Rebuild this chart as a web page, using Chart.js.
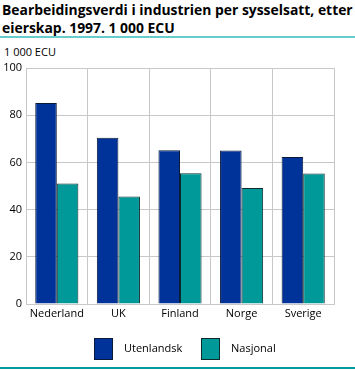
<!DOCTYPE html>
<html><head><meta charset="utf-8">
<script src="https://cdn.jsdelivr.net/npm/chart.js@4/dist/chart.umd.min.js"></script>
<style>
html,body{margin:0;padding:0;background:#fff;}
#wrap{position:relative;width:355px;height:370px;overflow:hidden;font-family:"Open Sans",sans-serif;}
#title{position:absolute;left:2px;top:1px;font-weight:bold;font-size:13.9px;line-height:18px;color:#000;white-space:nowrap;}
#rule1{position:absolute;left:0;top:36px;width:355px;height:2px;background:#66cccc;}
#rule2{position:absolute;left:0;top:367px;width:355px;height:2px;background:#009999;}
#unit{position:absolute;left:4px;top:44px;font-size:11px;color:#000;}
#cv{position:absolute;left:0;top:40px;}
</style></head>
<body><div id="wrap">
<div id="title">Bearbeidingsverdi i industrien per sysselsatt, etter<br>eierskap. 1997. 1 000 ECU</div>
<div id="rule1"></div>
<div id="unit">1 000 ECU</div>
<canvas id="cv" width="355" height="330"></canvas>
<div id="rule2"></div>
</div>
<script>
const categories = ["Nederland", "UK", "Finland", "Norge", "Sverige"];
const seriesNames = ["Utenlandsk", "Nasjonal"];
const utenlandsk = [85.2, 70.4, 65.2, 65.0, 62.3];
const nasjonal = [51.1, 45.6, 55.4, 49.1, 55.3];
const yTicks = [0, 20, 40, 60, 80, 100];

const FONT = "'Open Sans', sans-serif";

// legend drawn from the datasets (labels + colours)
const legendPlugin = {
  id: 'boxLegend',
  afterDraw(chart) {
    const ctx = chart.ctx;
    const top = 298; // canvas coords (page y 338)
    const xs = [94, 201];
    ctx.save();
    ctx.font = "11px " + FONT;
    ctx.textBaseline = 'middle';
    chart.data.datasets.forEach((ds, i) => {
      const x = xs[i];
      ctx.fillStyle = ds.backgroundColor;
      ctx.fillRect(x, top, 19, 22);
      ctx.strokeStyle = ds.borderColor;
      ctx.lineWidth = 1;
      ctx.strokeRect(x + 0.5, top + 0.5, 18, 21);
      ctx.fillStyle = '#000';
      ctx.fillText(ds.label, x + 30, top + 11);
    });
    ctx.restore();
  }
};

new Chart(document.getElementById('cv'), {
  type: 'bar',
  data: {
    labels: categories,
    datasets: [
      {label: seriesNames[0], data: utenlandsk, backgroundColor: '#003399', borderColor: '#0a1a3a', borderWidth: 1, borderSkipped: 'bottom'},
      {label: seriesNames[1], data: nasjonal, backgroundColor: '#009999', borderColor: '#0d2b2b', borderWidth: 1, borderSkipped: 'bottom'}
    ]
  },
  plugins: [legendPlugin],
  options: {
    responsive: false,
    animation: false,
    devicePixelRatio: 1,
    layout: {padding: {top: 28, right: 21, left: 0, bottom: 40}},
    datasets: {bar: {categoryPercentage: 0.7, barPercentage: 1.0}},
    scales: {
      x: {
        grid: {color: '#c8c8c8', lineWidth: 1, offset: true, drawTicks: false},
        border: {color: '#c8c8c8'},
        ticks: {color: '#000', font: {family: FONT, size: 11}, padding: 3, maxRotation: 0},
        afterFit: s => { s.height = 26; }
      },
      y: {
        min: 0, max: 100,
        afterBuildTicks: s => { s.ticks = yTicks.map(v => ({value: v})); },
        grid: {color: '#c8c8c8', lineWidth: 1, drawTicks: false},
        border: {color: '#c8c8c8'},
        ticks: {color: '#000', font: {family: FONT, size: 11}, padding: 4},
        afterFit: s => { s.width = 26; }
      }
    },
    plugins: {
      legend: {display: false},
      tooltip: {enabled: false},
      title: {display: false}
    }
  }
});
</script>
</body></html>
